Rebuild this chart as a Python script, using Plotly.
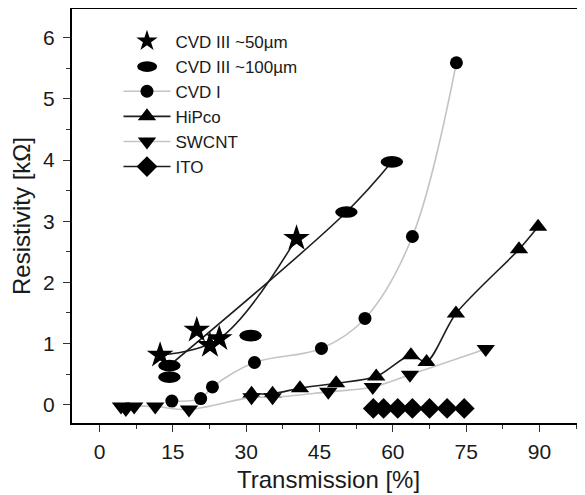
import plotly.graph_objects as go
import numpy as np

# --- data ---
# CVD III ~50um (stars); the curve goes through the points listed in star_fit
star_x = [12.4, 19.9, 22.6, 24.5, 40.3]
star_y = [0.81, 1.22, 0.97, 1.08, 2.72]
star_fit = [0, 3, 4]

# CVD III ~100um (pill markers)
pill_x = [14.3, 14.3, 30.9, 50.5, 59.8]
pill_y = [0.45, 0.64, 1.13, 3.15, 3.97]
pill_fit = [1, 3, 4]

cvd1_x = [14.8, 20.7, 23.1, 31.7, 45.4, 54.3, 64.0, 73.0]
cvd1_y = [0.06, 0.10, 0.29, 0.69, 0.92, 1.41, 2.75, 5.59]

hipco_x = [31.1, 35.4, 41.0, 48.4, 56.6, 63.7, 66.9, 72.9, 85.8, 89.7]
hipco_y = [0.18, 0.18, 0.27, 0.35, 0.46, 0.81, 0.70, 1.49, 2.54, 2.91]

swcnt_x = [4.4, 5.4, 7.1, 11.4, 18.3, 31.1, 35.4, 46.8, 55.9, 63.5, 79.0]
swcnt_y = [-0.03, -0.07, -0.03, -0.03, -0.08, 0.12, 0.12, 0.21, 0.29, 0.49, 0.91]

ito_x = [56.0, 58.1, 61.0, 64.0, 67.5, 71.1, 74.6]
ito_y = [-0.06, -0.06, -0.06, -0.06, -0.06, -0.06, -0.06]

DARK = "#1e1e1e"
LIGHT = "#c4c4c4"
FONT = "Liberation Sans, Arial, sans-serif"

fig = go.Figure()

# fitted curves drawn first, markers on top
sx, sy = np.array(star_x), np.array(star_y)
fig.add_trace(go.Scatter(x=sx[star_fit], y=sy[star_fit], mode="lines",
                         line=dict(color=DARK, width=1.6, shape="spline"),
                         showlegend=False, hoverinfo="skip"))
px_, py_ = np.array(pill_x), np.array(pill_y)
fig.add_trace(go.Scatter(x=px_[pill_fit], y=py_[pill_fit], mode="lines",
                         line=dict(color=DARK, width=1.6, shape="spline"),
                         showlegend=False, hoverinfo="skip"))

fig.add_trace(go.Scatter(x=star_x, y=star_y, mode="markers", name="CVD III ~50µm",
                         marker=dict(symbol="star", size=20, color="black")))
# pills are drawn as ellipse shapes below; the trace only carries the legend entry
fig.add_trace(go.Scatter(x=pill_x, y=pill_y, mode="markers", name="CVD III ~100µm",
                         marker=dict(symbol="circle", size=10, color="rgba(0,0,0,0)")))
fig.add_trace(go.Scatter(x=cvd1_x, y=cvd1_y, mode="lines+markers", name="CVD I",
                         line=dict(color=LIGHT, width=1.6, shape="spline"),
                         marker=dict(symbol="circle", size=13, color="black")))
fig.add_trace(go.Scatter(x=hipco_x, y=hipco_y, mode="lines+markers", name="HiPco",
                         line=dict(color=DARK, width=1.6, shape="spline", smoothing=0.8),
                         marker=dict(symbol="triangle-up", size=16, color="black")))
fig.add_trace(go.Scatter(x=swcnt_x, y=swcnt_y, mode="lines+markers", name="SWCNT",
                         line=dict(color=LIGHT, width=1.6, shape="spline"),
                         marker=dict(symbol="triangle-down", size=16, color="black")))
fig.add_trace(go.Scatter(x=ito_x, y=ito_y, mode="lines+markers", name="ITO",
                         line=dict(color=DARK, width=1.6),
                         marker=dict(symbol="diamond", size=16, color="black")))

# pill markers as ellipses in data coordinates
pill_w, pill_h = 2.3, 0.095
shapes = [dict(type="circle", xref="x", yref="y", x0=x - pill_w, x1=x + pill_w,
               y0=y - pill_h, y1=y + pill_h, fillcolor="black", line=dict(width=0))
          for x, y in zip(pill_x, pill_y)]
# pill symbol for the legend entry
shapes.append(dict(type="circle", xref="paper", yref="paper", x0=0.127, x1=0.166,
                   y0=0.848, y1=0.874, fillcolor="black", line=dict(width=0)))

# the page body adds an 8px offset, so the figure is a little smaller than the window
fig.update_layout(
    width=577, height=487,
    margin=dict(l=64, r=0, t=1, b=72),
    paper_bgcolor="white", plot_bgcolor="white",
    font=dict(family=FONT, size=21, color="#1a1a1a"),
    shapes=shapes,
    showlegend=True,
    legend=dict(x=0.0906, y=0.965, xanchor="left", yanchor="top",
                bgcolor="rgba(0,0,0,0)", font=dict(size=17), itemwidth=47,
                tracegroupgap=0),
    xaxis=dict(range=[-5.62, 99.3], tick0=0, dtick=15, ticks="outside", ticklen=7,
               tickcolor="#333", showline=True, linecolor="black", linewidth=2,
               mirror=True, showgrid=False, zeroline=False, automargin=False,
               ticklabelstandoff=2,
               minor=dict(dtick=7.5, ticks="outside", ticklen=4, tickcolor="#333"),
               title=dict(text="Transmission [%]", font=dict(size=24), standoff=9)),
    yaxis=dict(range=[-0.299, 6.469], tick0=0, dtick=1, ticks="outside", ticklen=7,
               tickcolor="#333", showline=True, linecolor="black", linewidth=2,
               showgrid=False, zeroline=False, automargin=False,
               ticklabelstandoff=4,
               minor=dict(dtick=0.5, ticks="outside", ticklen=4, tickcolor="#333"),
               title=dict(text="Resistivity [kΩ]", font=dict(size=24), standoff=23)),
)

fig.write_html("out.html")
